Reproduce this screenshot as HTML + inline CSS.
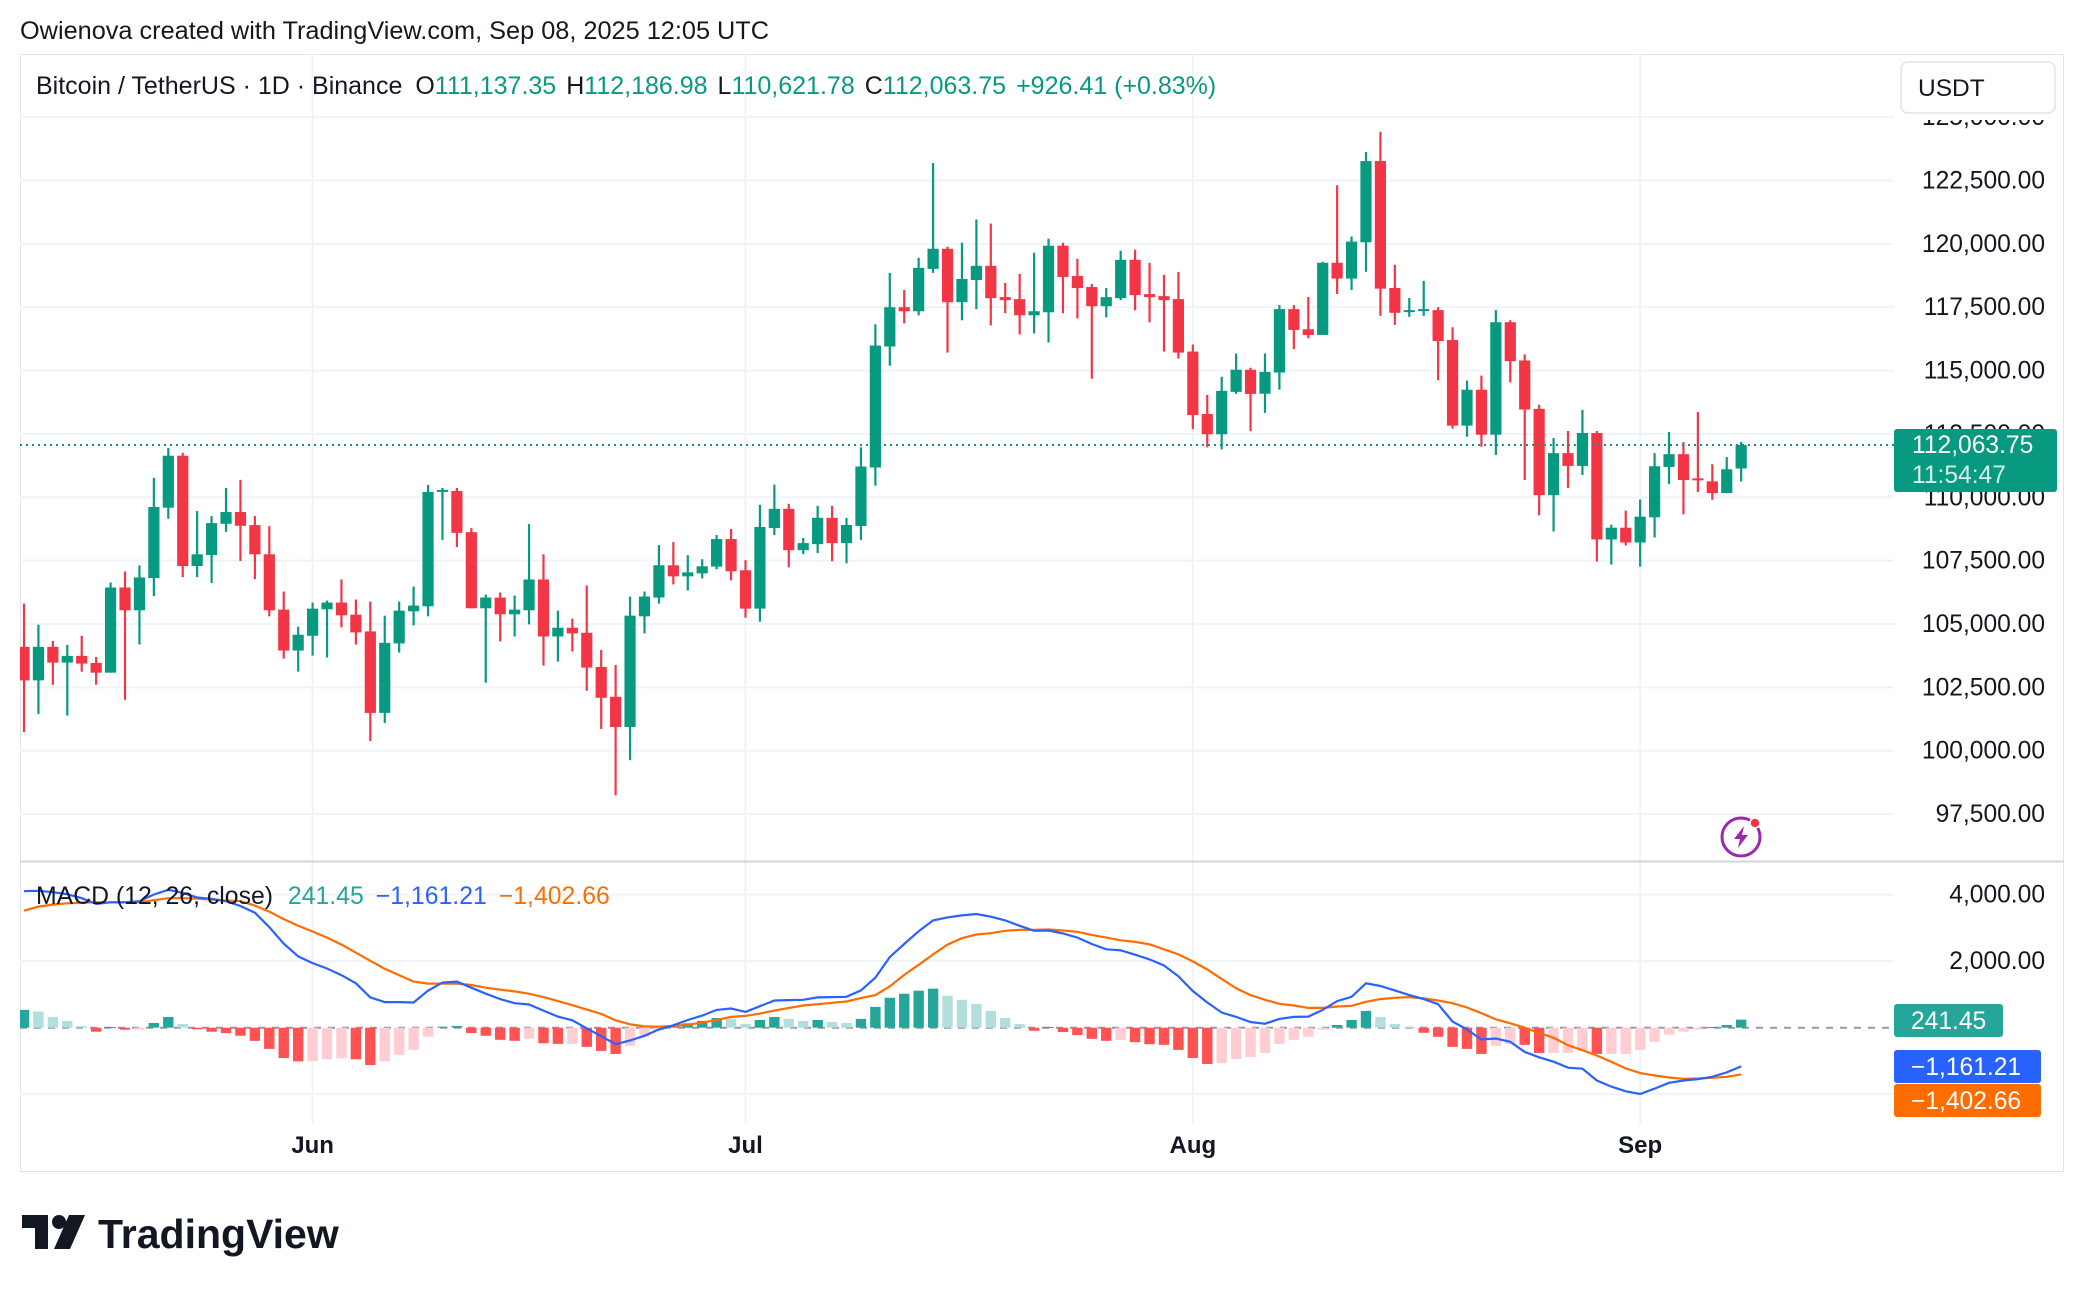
<!DOCTYPE html>
<html><head><meta charset="utf-8"><title>BTCUSDT chart</title>
<style>
html,body{margin:0;padding:0;background:#fff;}
body{width:2084px;height:1292px;overflow:hidden;font-family:"Liberation Sans",Arial,sans-serif;}
svg text{font-family:"Liberation Sans",Arial,sans-serif;}
</style></head>
<body>
<svg id="chart" width="2084" height="1292" viewBox="0 0 2084 1292" xmlns="http://www.w3.org/2000/svg">
  <defs>
    <clipPath id="pclip"><rect x="20" y="54" width="1874" height="807"/></clipPath>
    <clipPath id="mclip"><rect x="20" y="862" width="1874" height="262"/></clipPath>
  </defs>
  <text x="20" y="39" font-size="25.3" fill="#131722">Owienova created with TradingView.com, Sep 08, 2025 12:05 UTC</text>
  <rect x="20.5" y="54.5" width="2043" height="1117" fill="none" stroke="#e0e3eb" stroke-width="1"/>
  <g id="pgrid"></g>
  <g id="mgrid"></g>
  <line x1="20" y1="861.5" x2="2064" y2="861.5" stroke="#d1d4dc" stroke-width="2"/>
  <g id="candles" clip-path="url(#pclip)"></g>
  <g id="macd" clip-path="url(#mclip)"></g>
  <g id="paxis"></g>
  <g id="maxis"></g>
  <g id="taxis"></g>

  <text x="36" y="94" font-size="25" fill="#131722">Bitcoin / TetherUS · 1D · Binance <tspan dx="6">O</tspan><tspan fill="#089981">111,137.35</tspan><tspan dx="10">H</tspan><tspan fill="#089981">112,186.98</tspan><tspan dx="10">L</tspan><tspan fill="#089981">110,621.78</tspan><tspan dx="10">C</tspan><tspan fill="#089981">112,063.75</tspan><tspan dx="10" fill="#089981">+926.41 (+0.83%)</tspan></text>

  <rect x="1894" y="56" width="168" height="64" fill="#fff"/>
  <g>
    <rect x="1901" y="62" width="154" height="51" rx="7" fill="#fff" stroke="#e0e3eb" stroke-width="1.5"/>
    <text x="1918" y="96" font-size="24.5" fill="#131722">USDT</text>
  </g>

  <text x="36" y="904" font-size="24.8" fill="#131722">MACD (12, 26, close) <tspan dx="8" fill="#26a69a">241.45</tspan><tspan dx="12" fill="#2962ff">−1,161.21</tspan><tspan dx="12" fill="#ff6d00">−1,402.66</tspan></text>

  <g transform="translate(1741,837)">
    <circle r="19" fill="#fff" stroke="#9c27b0" stroke-width="3"/>
    <path d="M3,-11 L-7,2 L-1,2 L-3,11 L7,-2 L1,-2 Z" fill="#9c27b0"/>
    <circle cx="14" cy="-14" r="5" fill="#f23645" stroke="#fff" stroke-width="1.5"/>
  </g>

  <g transform="translate(22,1215)">
    <path d="M0,0 H26 V34 H13 V13 H0 Z" fill="#131722"/>
    <circle cx="37" cy="7" r="7" fill="#131722"/>
    <path d="M47,0 H63 L48,34 H32 Z" fill="#131722"/>
    <text x="76" y="33" font-size="41" font-weight="bold" fill="#131722">TradingView</text>
  </g>
</svg>
<script>
// ---- price data (May 12 .. Sep 8, daily) ----
const opens = [104099,102776,104099,103477,103742,103464,103081,106441,105541,106811,
109590,111640,107288,107724,108955,109418,108902,107751,105568,103954,
104536,105581,105846,105369,104708,101493,104232,105502,105700,110225,
110251,108624,105621,106044,105383,105541,106758,104509,104853,104655,
103305,102128,100937,105303,106045,107318,106880,107000,107264,108352,
107119,105608,108789,109545,107914,108153,109190,108193,108868,111176,
115950,117501,117342,119013,119808,117700,118575,119132,117899,117819,
117183,117302,119928,118734,118297,117541,117859,119371,118018,117939,
117819,115751,113285,112489,114160,115035,114087,114922,117426,116631,
116406,119254,118632,120063,123269,118261,117346,117386,117386,116207,
112828,114246,112470,116909,115399,113490,110085,111742,111238,112537,
108336,108800,108217,109211,111199,111702,110748,110629,110165,111137.35];
const highs = [105806,104972,104337,104179,104536,103702,106639,107076,107314,110767,
111945,111759,109457,109259,110370,110688,109259,108862,106282,104893,
105846,105925,106758,105965,105885,105330,105885,106481,110489,110370,
110370,108783,106163,106243,106123,108941,107751,105528,105211,106520,
103980,103385,106084,106282,108113,108232,107715,107556,108511,108749,
107516,109704,110500,109744,108392,109664,109664,109190,111972,116825,
118854,118177,119450,123190,119888,120047,120962,120803,118456,118814,
119649,120206,120047,119411,118416,118257,119729,119769,119251,118774,
118893,116029,114040,114756,115671,115114,115676,117585,117585,117903,
119294,122315,120288,123627,124422,119175,117863,118539,117505,116710,
114604,114802,117386,116989,115637,113650,112338,112616,113451,112616,
108919,109476,109913,111742,112576,112179,113371,111305,111583,112186.98];
const lows = [100739,101453,102604,101387,103120,102604,103081,102009,104192,106097,
109153,106851,106851,106613,108637,107486,106772,105303,103636,103120,
103755,103676,104867,104192,100382,101096,103874,104946,105303,108320,
108042,105621,102684,104311,104509,104986,103358,103517,103914,102366,
100858,98239,99628,104628,105806,106562,106323,106801,107158,106721,
105249,105090,108511,107238,107755,107795,107477,107397,108312,110460,
115194,116865,117183,118854,115711,116984,117422,116785,117263,116427,
116467,116109,117263,117064,114677,117103,117780,117382,116904,115751,
115472,112688,111972,111892,114080,112608,113331,114246,115849,116273,
116406,118022,118181,118897,117161,116803,117121,117161,114617,112709,
112391,111993,111675,114537,110682,109290,108654,110364,110880,107462,
107343,108098,107263,108416,110523,109330,110205,109900,110165,110621.78];
const closes = [102776,104099,103477,103742,103438,103081,106441,105541,106838,109616,
111640,107288,107751,108981,109418,108875,107751,105541,103954,104576,
105607,105846,105343,104668,101493,104258,105528,105727,110212,110291,
108597,105621,106044,105383,105568,106758,104509,104853,104628,103279,
102088,100937,105330,106084,107318,106880,107039,107278,108352,107079,
105608,108829,109545,107914,108193,109190,108193,108908,111216,115989,
117501,117342,119053,119808,117700,118615,119132,117859,117780,117183,
117342,119928,118694,118257,117541,117899,119371,117978,117899,117780,
115711,113245,112489,114199,115035,114080,114948,117426,116604,116406,
119254,118632,120089,123269,118234,117280,117386,117426,116167,112828,
114246,112470,116909,115372,113464,110085,111742,111238,112537,108336,
108800,108217,109237,111225,111702,110682,110682,110165,111106,112063.75];
// ---- MACD data ----
const macdLine = [4101,4111,4070,4010,3889,3717,3767,3767,3798,4000,
4141,4050,3909,3868,3798,3656,3454,3020,2525,2141,
1939,1778,1576,1333,909,768,768,758,1111,1353,
1384,1202,1020,859,737,697,515,333,222,-20,
-253,-495,-384,-242,-51,71,232,364,535,576,
475,646,818,828,838,909,919,929,1121,1505,
2121,2515,2899,3222,3313,3373,3414,3333,3222,3060,
2909,2919,2828,2707,2515,2353,2323,2192,2050,1869,
1545,1101,758,455,323,172,121,263,323,333,
535,798,929,1333,1252,1121,980,859,707,182,
-51,-354,-323,-424,-727,-889,-1020,-1202,-1232,-1586,
-1768,-1909,-1990,-1828,-1656,-1586,-1545,-1475,-1343,-1161.21];
const signalLine = [3515,3636,3697,3737,3757,3767,3767,3767,3767,3828,
3889,3889,3878,3848,3818,3798,3666,3485,3262,3060,
2889,2707,2495,2252,2010,1768,1576,1384,1323,1323,
1323,1283,1202,1141,1091,1020,919,798,677,545,
414,222,101,40,30,51,91,152,232,323,
354,424,515,596,667,707,747,788,889,980,
1242,1586,1889,2202,2495,2687,2798,2838,2909,2939,
2939,2949,2919,2879,2788,2707,2626,2576,2505,2353,
2202,1990,1747,1465,1182,980,838,717,667,596,
596,636,657,778,859,899,919,879,818,737,
606,434,252,131,0,-152,-303,-525,-677,-838,
-1020,-1222,-1363,-1434,-1495,-1535,-1525,-1505,-1475,-1402.66];
const histogram = [535,485,323,202,50,-121,20,-60,-60,141,
323,111,-50,-121,-162,-242,-394,-636,-909,-1010,
-1000,-949,-919,-949,-1121,-1010,-818,-667,-273,30,
50,-162,-242,-364,-394,-333,-465,-485,-485,-576,
-697,-788,-545,-273,-91,50,131,202,293,263,
111,232,323,263,202,232,172,141,263,626,
899,1020,1111,1172,960,838,717,505,293,111,
-91,20,-131,-222,-333,-394,-364,-434,-495,-515,
-667,-909,-1091,-1060,-939,-879,-758,-485,-364,-273,
-60,81,232,505,323,111,20,-152,-273,-576,
-636,-788,-545,-485,-515,-758,-758,-758,-697,-788,
-788,-788,-667,-424,-212,-121,-60,20,81,241.45];
const priceTicks = [97500,100000,102500,105000,107500,110000,112500,115000,117500,120000,122500,125000];
const macdTicks = [4000,2000];
const monthLabels = ['Jun','Jul','Aug','Sep'];
const monthIndex = [20,50,81,112];
const lastPrice = 112063.75;
const countdown = '11:54:47';

const NS = 'http://www.w3.org/2000/svg';
function xOf(i){ return 24 + i*14.43; }
function yP(p){ return 497.3 - (p-110000)*0.025342; }
function yM(v){ return 1027.7 - v*0.0333; }
function mk(tag, attrs, parent){ const e=document.createElementNS(NS,tag); for(const k in attrs) e.setAttribute(k,attrs[k]); parent.appendChild(e); return e; }
function fmt(v){ const s=Math.abs(v).toFixed(2).replace(/\B(?=(\d{3})+(?!\d))/g,','); return (v<0?'−':'')+s; }

const pgrid=document.getElementById('pgrid'), mgrid=document.getElementById('mgrid');
const paxis=document.getElementById('paxis'), maxis=document.getElementById('maxis'), taxis=document.getElementById('taxis');
priceTicks.forEach(function(t){
  const y=yP(t);
  const g=mk('line',{x1:20,x2:1894,y1:y,y2:y,stroke:'#f0f3fa','stroke-width':2},pgrid);
  
  
  const tx=mk('text',{x:2045,y:y+8,'font-size':24.6,fill:'#131722','text-anchor':'end'},paxis);
  tx.textContent=fmt(t);
  
  
});
macdTicks.concat([-2000]).forEach(function(t){
  const y=yM(t);
  const g=mk('line',{x1:20,x2:1894,y1:y,y2:y,stroke:'#f0f3fa','stroke-width':2},mgrid);
  
  
});
macdTicks.forEach(function(t){
  const tx=mk('text',{x:2045,y:yM(t)+8,'font-size':24.6,fill:'#131722','text-anchor':'end'},maxis);
  tx.textContent=fmt(t);
  
  
});
monthLabels.forEach(function(m,k){
  const x=xOf(monthIndex[k]);
  const g1=mk('line',{x1:x,x2:x,y1:54,y2:861,stroke:'#f0f3fa','stroke-width':2},pgrid);
  
  
  const g2=mk('line',{x1:x,x2:x,y1:862,y2:1124,stroke:'#f0f3fa','stroke-width':2},mgrid);
  
  
  const tx=mk('text',{x:x,y:1153,'font-size':24,fill:'#131722','text-anchor':'middle','font-weight':'bold'},taxis);
  tx.textContent=m;
  
  
});
const cg=document.getElementById('candles');
closes.forEach(function(c,i){
  const o=opens[i], h=highs[i], l=lows[i];
  const up=c>=o, col=up?'#089981':'#f23645', x=xOf(i);
  const g=mk('g',{},cg);
  
  
  mk('rect',{x:x-1.1,y:yP(h),width:2.2,height:Math.max(1,yP(l)-yP(h)),fill:col},g);
  const top=yP(Math.max(o,c)), bot=yP(Math.min(o,c));
  mk('rect',{x:x-5.6,y:top,width:11.2,height:Math.max(2,bot-top),fill:col},g);
});
const lp=mk('line',{x1:20,x2:1894,y1:yP(lastPrice),y2:yP(lastPrice),stroke:'#089981','stroke-width':2,'stroke-dasharray':'2 4'},cg);


const lpg=mk('g',{},paxis);


const ly=yP(lastPrice);
mk('rect',{x:1894,y:ly-16,width:163,height:63,rx:3,fill:'#089981'},lpg);
mk('text',{x:1912,y:ly+8,'font-size':24.6,fill:'#fff'},lpg).textContent=lastPrice.toFixed(2).replace(/\B(?=(\d{3})+(?!\d))/g,',');
mk('text',{x:1912,y:ly+38,'font-size':24.6,fill:'#d6f0eb'},lpg).textContent=countdown;
const mg=document.getElementById('macd');
const zero=mk('line',{x1:20,x2:1894,y1:yM(0),y2:yM(0),stroke:'#9598a1','stroke-width':2,'stroke-dasharray':'7 7'},mg);


histogram.forEach(function(v,i){
  const prev=i>0?histogram[i-1]:v;
  let col;
  if(v>=0) col=(v>=prev)?'#26a69a':'#b2dfdb'; else col=(v<prev)?'#ff5252':'#ffcdd2';
  const y0=yM(0), y1=yM(v);
  const r=mk('rect',{x:xOf(i)-5.2,y:Math.min(y0,y1),width:10.4,height:Math.max(1,Math.abs(y1-y0)),fill:col},mg);
  
  
});
function linePts(arr){ return arr.map(function(v,i){return xOf(i).toFixed(1)+','+yM(v).toFixed(1);}).join(' '); }
const sl=mk('polyline',{points:linePts(signalLine),fill:'none',stroke:'#ff6d00','stroke-width':2.2},mg);


const ml=mk('polyline',{points:linePts(macdLine),fill:'none',stroke:'#2962ff','stroke-width':2.2},mg);


function valBox(v,col,y0,w,name){
  const g=mk('g',{},maxis);
  
  
  mk('rect',{x:1894,y:y0,width:w,height:33,rx:3,fill:col},g);
  mk('text',{x:1911,y:y0+25,'font-size':24.6,fill:'#fff'},g).textContent=fmt(v);
}
valBox(histogram[histogram.length-1],'#26a69a',1004,109,'histogram-value-label');
valBox(macdLine[macdLine.length-1],'#2962ff',1050,147,'macd-value-label');
valBox(signalLine[signalLine.length-1],'#ff6d00',1084,147,'signal-value-label');
</script>
</body></html>
